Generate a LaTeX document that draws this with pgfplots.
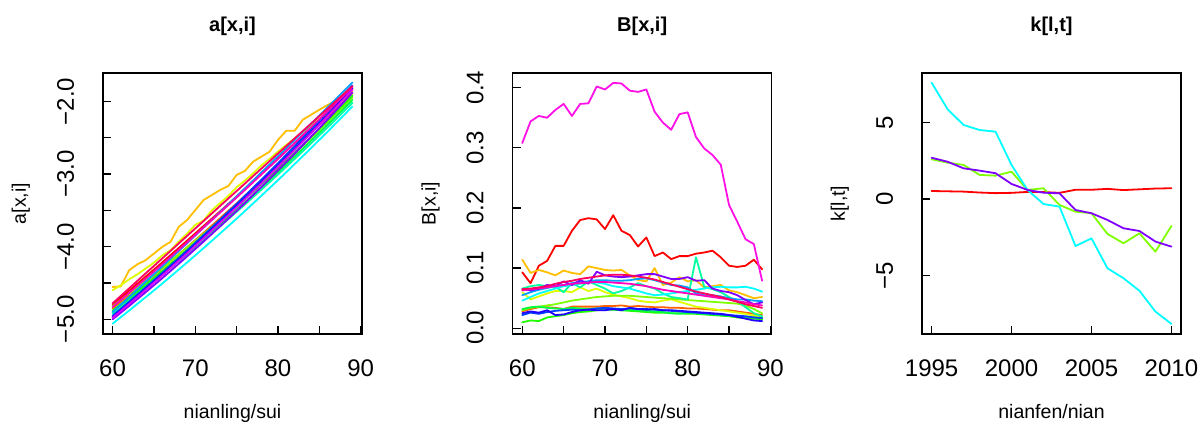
\documentclass[border=0pt]{standalone}
\usepackage{pgfplots}
\pgfplotsset{compat=1.18}
\usepackage{pgfplotstable}
\usepackage{fontspec}
\setmainfont{Liberation Sans}

\definecolor{c1}{HTML}{FF0000}
\definecolor{c2}{HTML}{FF6000}
\definecolor{c3}{HTML}{FFBF00}
\definecolor{c4}{HTML}{DFFF00}
\definecolor{c5}{HTML}{80FF00}
\definecolor{c6}{HTML}{20FF00}
\definecolor{c7}{HTML}{00FF40}
\definecolor{c8}{HTML}{00FF9F}
\definecolor{c9}{HTML}{00FFFF}
\definecolor{c10}{HTML}{009FFF}
\definecolor{c11}{HTML}{0040FF}
\definecolor{c12}{HTML}{2000FF}
\definecolor{c13}{HTML}{8000FF}
\definecolor{c14}{HTML}{DF00FF}
\definecolor{c15}{HTML}{FF00BF}
\definecolor{c16}{HTML}{FF0060}
\definecolor{bigmag}{HTML}{FF10E6}

\pgfplotstableread{
x c1 c2 c3 c4 c5 c6 c7 c8 c9 c10 c11 c12 c13 c14 c15 c16
60 -4.800 -4.850 -4.555 -4.60 -4.820 -4.880 -4.900 -4.920 -5.060 -4.900 -4.950 -4.970 -5.000 -4.980 -4.830 -4.780
61 -4.703 -4.760 -4.546 -4.53 -4.734 -4.791 -4.812 -4.833 -4.970 -4.796 -4.854 -4.874 -4.908 -4.885 -4.733 -4.677
62 -4.607 -4.670 -4.325 -4.45 -4.648 -4.702 -4.724 -4.746 -4.880 -4.693 -4.757 -4.779 -4.816 -4.789 -4.637 -4.574
63 -4.509 -4.577 -4.242 -4.38 -4.560 -4.610 -4.635 -4.657 -4.787 -4.588 -4.659 -4.681 -4.721 -4.692 -4.538 -4.470
64 -4.413 -4.485 -4.186 -4.30 -4.472 -4.519 -4.545 -4.568 -4.695 -4.483 -4.560 -4.583 -4.627 -4.594 -4.441 -4.367
65 -4.315 -4.392 -4.094 -4.22 -4.383 -4.427 -4.454 -4.477 -4.602 -4.379 -4.461 -4.484 -4.531 -4.496 -4.342 -4.265
66 -4.217 -4.298 -4.003 -4.12 -4.293 -4.334 -4.362 -4.386 -4.508 -4.274 -4.361 -4.385 -4.434 -4.397 -4.243 -4.162
67 -4.117 -4.202 -3.934 -4.05 -4.200 -4.239 -4.268 -4.293 -4.412 -4.167 -4.258 -4.283 -4.335 -4.295 -4.143 -4.059
68 -4.018 -4.105 -3.727 -3.93 -4.108 -4.144 -4.175 -4.200 -4.315 -4.060 -4.156 -4.181 -4.235 -4.194 -4.042 -3.955
69 -3.918 -4.008 -3.634 -3.82 -4.015 -4.047 -4.080 -4.106 -4.218 -3.954 -4.052 -4.078 -4.135 -4.092 -3.942 -3.852
70 -3.817 -3.909 -3.496 -3.70 -3.920 -3.949 -3.983 -4.010 -4.119 -3.846 -3.947 -3.974 -4.032 -3.987 -3.839 -3.749
71 -3.716 -3.810 -3.358 -3.64 -3.825 -3.851 -3.886 -3.914 -4.020 -3.738 -3.841 -3.869 -3.929 -3.883 -3.737 -3.646
72 -3.615 -3.710 -3.289 -3.50 -3.729 -3.752 -3.789 -3.817 -3.920 -3.631 -3.735 -3.763 -3.825 -3.777 -3.634 -3.543
73 -3.514 -3.608 -3.220 -3.40 -3.632 -3.652 -3.690 -3.719 -3.818 -3.523 -3.628 -3.657 -3.720 -3.671 -3.530 -3.439
74 -3.411 -3.506 -3.164 -3.30 -3.534 -3.551 -3.590 -3.620 -3.716 -3.414 -3.519 -3.549 -3.613 -3.564 -3.427 -3.336
75 -3.309 -3.404 -3.012 -3.18 -3.436 -3.449 -3.490 -3.520 -3.614 -3.306 -3.411 -3.441 -3.507 -3.456 -3.323 -3.234
76 -3.206 -3.300 -2.957 -3.09 -3.336 -3.346 -3.388 -3.419 -3.510 -3.197 -3.300 -3.331 -3.398 -3.347 -3.218 -3.131
77 -3.101 -3.194 -2.829 -2.99 -3.235 -3.242 -3.285 -3.317 -3.404 -3.087 -3.189 -3.221 -3.287 -3.237 -3.112 -3.027
78 -2.998 -3.088 -2.760 -2.88 -3.133 -3.137 -3.182 -3.214 -3.298 -2.976 -3.077 -3.109 -3.177 -3.125 -3.005 -2.924
79 -2.893 -2.981 -2.691 -2.79 -3.030 -3.031 -3.077 -3.110 -3.191 -2.866 -2.963 -2.996 -3.064 -3.013 -2.899 -2.821
80 -2.788 -2.874 -2.529 -2.69 -2.927 -2.925 -2.972 -3.006 -3.084 -2.756 -2.850 -2.883 -2.951 -2.900 -2.792 -2.718
81 -2.682 -2.765 -2.405 -2.60 -2.822 -2.816 -2.865 -2.900 -2.975 -2.644 -2.734 -2.769 -2.837 -2.786 -2.684 -2.615
82 -2.575 -2.654 -2.405 -2.51 -2.716 -2.707 -2.758 -2.793 -2.864 -2.531 -2.618 -2.653 -2.721 -2.671 -2.575 -2.511
83 -2.469 -2.544 -2.253 -2.42 -2.609 -2.598 -2.650 -2.686 -2.754 -2.420 -2.501 -2.537 -2.604 -2.555 -2.467 -2.408
84 -2.361 -2.432 -2.184 -2.33 -2.501 -2.487 -2.540 -2.577 -2.642 -2.307 -2.383 -2.420 -2.485 -2.438 -2.356 -2.305
85 -2.254 -2.320 -2.115 -2.24 -2.393 -2.376 -2.430 -2.467 -2.530 -2.194 -2.265 -2.302 -2.368 -2.321 -2.246 -2.202
86 -2.147 -2.207 -2.050 -2.16 -2.284 -2.264 -2.319 -2.357 -2.417 -2.082 -2.145 -2.183 -2.247 -2.202 -2.136 -2.100
87 -2.039 -2.092 -1.990 -2.07 -2.174 -2.150 -2.208 -2.246 -2.302 -1.969 -2.025 -2.063 -2.126 -2.083 -2.025 -1.996
88 -1.929 -1.976 -1.930 -1.99 -2.062 -2.035 -2.094 -2.133 -2.186 -1.854 -1.902 -1.942 -2.004 -1.961 -1.913 -1.893
89 -1.820 -1.860 -1.860 -1.91 -1.950 -1.920 -1.980 -2.020 -2.070 -1.740 -1.780 -1.820 -1.880 -1.840 -1.800 -1.790
}\tA

\pgfplotstableread{
x c1 c2 c3 c4 c5 c6 c7 c8 c9 c10 c11 c12 c13 c14 c15 c16
60 0.093 0.028 0.114 0.060 0.030 0.010 0.032 0.066 0.046 0.055 0.022 0.025 0.065 0.308 0.063 0.065
61 0.075 0.032 0.092 0.048 0.034 0.013 0.035 0.070 0.052 0.060 0.026 0.028 0.063 0.344 0.065 0.066
62 0.104 0.035 0.097 0.053 0.036 0.012 0.036 0.072 0.058 0.064 0.024 0.026 0.066 0.353 0.066 0.068
63 0.112 0.035 0.093 0.058 0.038 0.018 0.034 0.070 0.062 0.067 0.027 0.030 0.072 0.350 0.068 0.070
64 0.137 0.034 0.088 0.062 0.040 0.020 0.033 0.069 0.066 0.070 0.029 0.022 0.070 0.363 0.070 0.074
65 0.137 0.032 0.096 0.062 0.043 0.022 0.032 0.060 0.070 0.072 0.030 0.023 0.078 0.373 0.072 0.077
66 0.162 0.036 0.092 0.060 0.046 0.025 0.034 0.075 0.072 0.075 0.031 0.027 0.072 0.353 0.074 0.079
67 0.180 0.036 0.090 0.068 0.048 0.027 0.033 0.068 0.074 0.077 0.030 0.030 0.080 0.373 0.075 0.082
68 0.183 0.036 0.103 0.062 0.050 0.028 0.032 0.078 0.078 0.078 0.031 0.031 0.074 0.374 0.076 0.084
69 0.181 0.036 0.100 0.066 0.052 0.030 0.033 0.072 0.076 0.080 0.033 0.030 0.094 0.402 0.077 0.086
70 0.165 0.037 0.097 0.060 0.053 0.031 0.032 0.066 0.074 0.080 0.034 0.030 0.088 0.397 0.077 0.088
71 0.188 0.037 0.096 0.056 0.054 0.031 0.031 0.058 0.070 0.079 0.033 0.032 0.086 0.408 0.076 0.089
72 0.162 0.038 0.097 0.053 0.054 0.030 0.030 0.062 0.068 0.079 0.032 0.030 0.085 0.407 0.075 0.089
73 0.155 0.036 0.088 0.050 0.054 0.029 0.031 0.068 0.066 0.080 0.033 0.034 0.086 0.395 0.074 0.088
74 0.136 0.037 0.080 0.046 0.053 0.028 0.030 0.075 0.062 0.082 0.032 0.032 0.088 0.393 0.072 0.086
75 0.151 0.036 0.078 0.044 0.052 0.027 0.029 0.070 0.058 0.083 0.032 0.031 0.090 0.397 0.070 0.084
76 0.120 0.035 0.100 0.043 0.051 0.026 0.028 0.066 0.055 0.080 0.031 0.032 0.090 0.360 0.067 0.081
77 0.126 0.035 0.072 0.046 0.050 0.026 0.027 0.058 0.056 0.076 0.030 0.030 0.086 0.342 0.064 0.077
78 0.115 0.034 0.076 0.048 0.049 0.025 0.025 0.052 0.058 0.072 0.029 0.030 0.082 0.330 0.062 0.073
79 0.120 0.034 0.085 0.044 0.048 0.025 0.024 0.050 0.060 0.071 0.028 0.029 0.082 0.356 0.060 0.069
80 0.120 0.033 0.078 0.040 0.047 0.024 0.026 0.048 0.062 0.068 0.027 0.028 0.085 0.359 0.058 0.065
81 0.124 0.033 0.080 0.036 0.046 0.024 0.025 0.118 0.064 0.058 0.026 0.027 0.079 0.318 0.056 0.061
82 0.126 0.032 0.068 0.034 0.045 0.023 0.024 0.069 0.066 0.055 0.025 0.026 0.080 0.299 0.054 0.058
83 0.129 0.031 0.070 0.032 0.044 0.022 0.023 0.065 0.068 0.055 0.024 0.025 0.066 0.288 0.052 0.055
84 0.118 0.030 0.072 0.030 0.043 0.021 0.022 0.060 0.069 0.053 0.023 0.024 0.062 0.272 0.050 0.052
85 0.104 0.030 0.063 0.028 0.042 0.020 0.021 0.052 0.068 0.050 0.022 0.022 0.060 0.205 0.048 0.048
86 0.102 0.028 0.060 0.026 0.041 0.018 0.020 0.045 0.068 0.048 0.021 0.019 0.055 0.177 0.045 0.044
87 0.104 0.026 0.055 0.024 0.038 0.017 0.019 0.035 0.069 0.048 0.020 0.016 0.047 0.148 0.043 0.040
88 0.114 0.024 0.050 0.021 0.032 0.016 0.018 0.025 0.066 0.046 0.018 0.013 0.040 0.140 0.040 0.037
89 0.098 0.022 0.052 0.018 0.025 0.015 0.017 0.020 0.061 0.045 0.017 0.012 0.043 0.079 0.038 0.034
}\tB

\pgfplotstableread{
x red green cyan purple
1995 0.52 2.59 7.59 2.69
1996 0.50 2.37 5.85 2.43
1997 0.48 2.22 4.83 2.00
1998 0.42 1.57 4.50 1.85
1999 0.38 1.52 4.39 1.68
2000 0.40 1.78 2.22 0.98
2001 0.46 0.59 0.59 0.59
2002 0.45 0.70 -0.33 0.41
2003 0.40 -0.39 -0.50 0.37
2004 0.60 -0.83 -3.07 -0.72
2005 0.60 -0.93 -2.57 -0.93
2006 0.66 -2.28 -4.52 -1.37
2007 0.58 -2.89 -5.17 -1.91
2008 0.63 -2.24 -5.99 -2.09
2009 0.68 -3.44 -7.35 -2.78
2010 0.70 -1.76 -8.15 -3.11
}\tK

\pgfplotsset{
  rstyle/.style={
    scale only axis, width=259bp, height=261bp,
    anchor=south west,
    axis line style={line width=1.3bp, black},
    every tick/.style={line width=1.3bp, black},
    tick align=inside, major tick length=8bp,
    xtick pos=left, ytick pos=left,
    xticklabel style={font=\fontsize{24bp}{28bp}\selectfont, anchor=north, inner sep=0pt, outer ysep=26bp},
    yticklabel style={font=\fontsize{24bp}{28bp}\selectfont, rotate=90, anchor=south, inner sep=0pt, outer ysep=29bp},
    title style={font=\bfseries\fontsize{20bp}{24bp}\selectfont, at={(axis description cs:0.5,1)}, anchor=south, inner sep=0pt, outer ysep=31bp},
    xlabel style={font=\fontsize{19.5bp}{23bp}\selectfont, at={(axis description cs:0.5,0)}, anchor=north, inner sep=0pt, outer ysep=70bp},
    ylabel style={font=\fontsize{19.5bp}{23bp}\selectfont, at={(axis description cs:0,0.5)}, anchor=south, inner sep=0pt, outer ysep=73bp},
    every axis plot/.append style={line width=1.8bp, line join=round, line cap=round},
  }
}

\begin{document}
\begin{tikzpicture}
\useasboundingbox (0,0) rectangle (1201bp,430bp);

\begin{axis}[rstyle, at={(103bp,96bp)},
  xmin=58.84, xmax=90.16, ymin=-5.202, ymax=-1.609,
  xtick={60,65,70,75,80,85,90}, xticklabels={60,,70,,80,,90},
  ytick={-5,-4.5,-4,-3.5,-3,-2.5,-2}, yticklabels={−5.0,,−4.0,,−3.0,,−2.0},
  title={a[x,i]}, xlabel={nianling/sui}, ylabel={a[x,i]}]
\addplot[c1] table[x=x,y=c1]{\tA};
\addplot[c2] table[x=x,y=c2]{\tA};
\addplot[c3] table[x=x,y=c3]{\tA};
\addplot[c4] table[x=x,y=c4]{\tA};
\addplot[c5] table[x=x,y=c5]{\tA};
\addplot[c6] table[x=x,y=c6]{\tA};
\addplot[c7] table[x=x,y=c7]{\tA};
\addplot[c8] table[x=x,y=c8]{\tA};
\addplot[c9] table[x=x,y=c9]{\tA};
\addplot[c10] table[x=x,y=c10]{\tA};
\addplot[c11] table[x=x,y=c11]{\tA};
\addplot[c12] table[x=x,y=c12]{\tA};
\addplot[c13] table[x=x,y=c13]{\tA};
\addplot[c14] table[x=x,y=c14]{\tA};
\addplot[c15] table[x=x,y=c15]{\tA};
\addplot[c16] table[x=x,y=c16]{\tA};
\end{axis}

\begin{axis}[rstyle, at={(512.7bp,96bp)},
  xmin=58.84, xmax=90.16, ymin=-0.0095, ymax=0.4244,
  xtick={60,65,70,75,80,85,90}, xticklabels={60,,70,,80,,90},
  ytick={0,0.1,0.2,0.3,0.4}, yticklabels={0.0,0.1,0.2,0.3,0.4},
  title={B[x,i]}, xlabel={nianling/sui}, ylabel={B[x,i]}]
\addplot[c1] table[x=x,y=c1]{\tB};
\addplot[c2] table[x=x,y=c2]{\tB};
\addplot[c3] table[x=x,y=c3]{\tB};
\addplot[c4] table[x=x,y=c4]{\tB};
\addplot[c5] table[x=x,y=c5]{\tB};
\addplot[c6] table[x=x,y=c6]{\tB};
\addplot[c7] table[x=x,y=c7]{\tB};
\addplot[c8] table[x=x,y=c8]{\tB};
\addplot[c9] table[x=x,y=c9]{\tB};
\addplot[c10] table[x=x,y=c10]{\tB};
\addplot[c11] table[x=x,y=c11]{\tB};
\addplot[c12] table[x=x,y=c12]{\tB};
\addplot[c13] table[x=x,y=c13]{\tB};
\addplot[bigmag] table[x=x,y=c14]{\tB};
\addplot[c15] table[x=x,y=c15]{\tB};
\addplot[c16] table[x=x,y=c16]{\tB};
\end{axis}

\begin{axis}[rstyle, at={(922bp,96bp)},
  xmin=1994.4, xmax=2010.6, ymin=-8.81, ymax=8.22,
  xtick={1995,2000,2005,2010}, xticklabels={1995,2000,2005,2010},
  ytick={-5,0,5}, yticklabels={−5,0,5},
  title={k[l,t]}, xlabel={nianfen/nian}, ylabel={k[l,t]}]
\addplot[c1] table[x=x,y=red]{\tK};
\addplot[c5] table[x=x,y=green]{\tK};
\addplot[c9] table[x=x,y=cyan]{\tK};
\addplot[c13] table[x=x,y=purple]{\tK};
\end{axis}
\end{tikzpicture}
\end{document}
